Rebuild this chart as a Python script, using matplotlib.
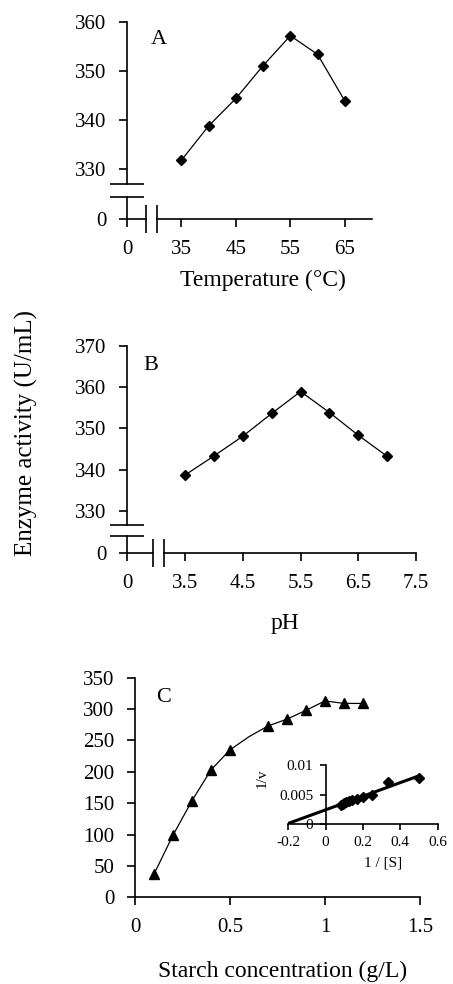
import numpy as np
import matplotlib.pyplot as plt

plt.rcParams['font.family'] = ['Liberation Serif', 'DejaVu Serif']

# A: activity vs temperature
temp = [35, 40, 45, 50, 55, 60, 65]
act_temp = [331.8, 338.8, 344.4, 351.1, 357.2, 353.4, 343.9]

# B: activity vs pH
ph = [3.5, 4.0, 4.5, 5.0, 5.5, 6.0, 6.5, 7.0]
act_ph = [338.7, 343.3, 348.1, 353.6, 358.9, 353.8, 348.3, 343.2]

# C: activity vs starch concentration
starch = [0.1, 0.2, 0.3, 0.4, 0.5, 0.6, 0.7, 0.8, 0.9, 1.0, 1.1, 1.2]
act_starch = [37, 99, 154, 203, 235, 256, 273, 284, 298, 313, 309, 309]

# inset: Lineweaver-Burk
inv_s = [0.083, 0.091, 0.1, 0.111, 0.125, 0.143, 0.167, 0.2, 0.25, 0.333, 0.5]
inv_v = [0.0033, 0.0034, 0.0035, 0.0037, 0.0039, 0.0041, 0.0043, 0.0046, 0.0050, 0.0071, 0.0078]

W, H = 453, 984
fig = plt.figure(figsize=(W / 100, H / 100), dpi=100)


def px_axes(l, t, r, b):
    return fig.add_axes([l / W, 1 - b / H, (r - l) / W, (b - t) / H])


def style(ax, size=15, pad=9):
    ax.spines[['top', 'right']].set_visible(False)
    for s in ax.spines.values():
        s.set_linewidth(1.2)
    ax.tick_params(direction='out', length=6, width=1.2, labelsize=size, pad=pad)


def broken(ax, x0, xb, y0, yb):
    # left/bottom axis lines with a "0" stub and a break on each
    ax.spines['left'].set_bounds(yb[1], ax.get_ylim()[1])
    ax.spines['bottom'].set_bounds(xb[1], ax.get_xlim()[1])
    kw = dict(color='k', lw=1.2, clip_on=False)
    ax.plot([x0, x0], [y0, yb[0]], **kw)
    ax.plot([x0, xb[0]], [y0, y0], **kw)
    ax.plot([x0, x0], yb, ls='none', marker='_', ms=24, mew=1.2, color='k', clip_on=False)
    ax.plot(xb, [y0, y0], ls='none', marker='|', ms=20, mew=1.2, color='k', clip_on=False)


line_kw = dict(color='k', lw=0.9, marker='D', ms=5.5, clip_on=False)

# ---- A ----
axA = px_axes(127, 22, 372, 219)
style(axA)
axA.plot(temp, act_temp, **line_kw)
axA.set_xlim(25, 70)
axA.set_ylim(319.8, 360)
axA.set_xticks([25, 35, 45, 55, 65], ['0', '35', '45', '55', '65'])
axA.set_yticks([319.8, 330, 340, 350, 360], ['0', '330', '340', '350', '360'])
broken(axA, 25, (28.4, 30.6), 319.8, (324.3, 326.9))
axA.set_xlabel('Temperature (°C)', fontsize=17, va='center')
axA.xaxis.set_label_coords(0.555, -0.31)
axA.text(0.131, 0.911, 'A', transform=axA.transAxes, fontsize=16, ha='center', va='center')

# ---- B ----
axB = px_axes(127, 345.7, 416, 553.3)
style(axB)
axB.plot(ph, act_ph, **line_kw)
axB.set_xlim(2.49, 7.5)
axB.set_ylim(319.7, 370)
axB.set_xticks([2.49, 3.5, 4.5, 5.5, 6.5, 7.5], ['0', '3.5', '4.5', '5.5', '6.5', '7.5'])
axB.set_yticks([319.7, 330, 340, 350, 360, 370], ['0', '330', '340', '350', '360', '370'])
broken(axB, 2.49, (2.935, 3.13), 319.7, (324.0, 326.5))
axB.set_xlabel('pH', fontsize=17, va='center')
axB.xaxis.set_label_coords(0.547, -0.336)
axB.text(0.081, 0.907, 'B', transform=axB.transAxes, fontsize=16, ha='center', va='center')

fig.text(26 / W, 1 - 433 / H, 'Enzyme activity (U/mL)', rotation=90,
         fontsize=18, ha='center', va='center')

# ---- C ----
axC = px_axes(135, 677.7, 420, 897.3)
style(axC)
axC.plot(starch, act_starch, color='k', lw=0.9, marker='^', ms=7,
         markevery=[0, 1, 2, 3, 4, 6, 7, 8, 9, 10, 11])
axC.set_xlim(0, 1.5)
axC.set_ylim(0, 350)
axC.set_xticks([0, 0.5, 1, 1.5], ['0', '0.5', '1', '1.5'])
axC.set_yticks(np.arange(0, 351, 50))
axC.set_xlabel('Starch concentration (g/L)', fontsize=17, va='center')
axC.xaxis.set_label_coords(0.519, -0.339)
axC.text(0.1, 0.91, 'C', transform=axC.transAxes, fontsize=16, ha='center', va='center')

# ---- inset ----
axI = px_axes(288.3, 765, 437.7, 824)
axI.patch.set_alpha(0)
style(axI, size=11, pad=5)
axI.tick_params(length=4)
axI.spines['left'].set_position(('data', 0))
slope, icept = np.polyfit(inv_s, inv_v, 1)
x_fit = np.array([-icept / slope, max(inv_s)])
axI.plot(x_fit, icept + slope * x_fit, color='k', lw=2.2)
axI.plot(inv_s, inv_v, ls='none', color='k', marker='D', ms=5)
axI.set_xlim(-0.2, 0.6)
axI.set_ylim(0, 0.01)
axI.set_xticks([-0.2, 0, 0.2, 0.4, 0.6], ['-0.2', '0', '0.2', '0.4', '0.6'])
axI.set_yticks([0, 0.005, 0.01], ['0', '0.005', '0.01'])
axI.set_xlabel('1 / [S]', fontsize=11, va='center')
axI.xaxis.set_label_coords(0.634, -0.661)
axI.set_ylabel('1/v', fontsize=11, va='center')
axI.yaxis.set_label_coords(-0.176, 0.78)

fig.savefig('out.png', dpi=100)
